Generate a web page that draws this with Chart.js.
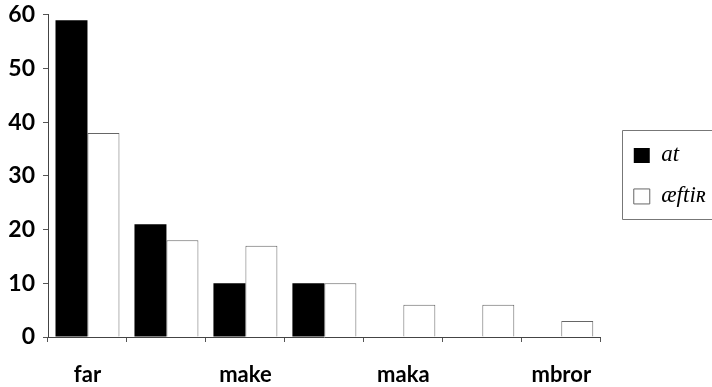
<!DOCTYPE html>
<html>
<head>
<meta charset="utf-8">
<script src="https://cdn.jsdelivr.net/npm/chart.js@4.4.1/dist/chart.umd.min.js"></script>
<style>
  html, body { margin: 0; padding: 0; background: #ffffff; }
  #wrap { width: 712px; height: 387px; position: relative; }
</style>
</head>
<body>
<div id="wrap"><canvas id="c" width="712" height="387"></canvas></div>
<script>
const categories = ['far', '', 'make', '', 'maka', '', 'mbror'];
const atValues = [59, 21, 10, 10, 0, 0, 0];
const aeftirValues = [38, 18, 17, 10, 6, 6, 3];
const seriesNames = ['at', 'æftiʀ'];
const yTicks = [0, 10, 20, 30, 40, 50, 60];

const legendFrame = {
  id: 'legendFrame',
  afterLayout(chart) {
    const lg = chart.legend;
    if (!lg) return;
    const pad = lg.options.labels.padding;
    const dx = (chart.chartArea.right + 33) - (lg.left + pad);
    const mid = (chart.chartArea.top + chart.chartArea.bottom) / 2;
    const dy = mid - (lg.top + lg.bottom) / 2;
    lg.left += dx; lg.right += dx;
    lg.top += dy; lg.bottom += dy;
  },
  afterDraw(chart) {
    const lg = chart.legend;
    if (!lg || !lg.legendHitBoxes || !lg.legendHitBoxes.length) return;
    const hb = lg.legendHitBoxes;
    const first = hb[0], last = hb[hb.length - 1];
    const ctx = chart.ctx;
    ctx.save();
    ctx.strokeStyle = '#777';
    ctx.lineWidth = 1;
    const x0 = Math.round(first.left - 12) + 0.5;
    const y0 = Math.round(first.top + first.height / 2 - 25) + 0.5;
    const y1 = Math.round(last.top + last.height / 2 + 23) + 0.5;
    ctx.beginPath();
    ctx.moveTo(chart.width + 5, y0);
    ctx.lineTo(x0, y0);
    ctx.lineTo(x0, y1);
    ctx.lineTo(chart.width + 5, y1);
    ctx.stroke();
    ctx.restore();
  }
};

new Chart(document.getElementById('c'), {
  type: 'bar',
  data: {
    labels: categories,
    datasets: [
      { label: seriesNames[0], data: atValues, backgroundColor: '#000000', borderColor: '#000000', borderWidth: 0 },
      { label: seriesNames[1], data: aeftirValues, backgroundColor: '#ffffff', borderColor: '#666666', borderWidth: 1 }
    ]
  },
  options: {
    responsive: false,
    animation: false,
    layout: { padding: { top: 0, left: 0, right: 11, bottom: 0 } },
    datasets: { bar: { categoryPercentage: 0.81, barPercentage: 1.0 } },
    plugins: {
      tooltip: { enabled: false },
      legend: {
        position: 'right',
        labels: {
          color: '#000',
          boxWidth: 16,
          boxHeight: 15,
          padding: 18,
          font: { family: '"Liberation Serif", "DejaVu Serif", serif', style: 'italic', size: 23 }
        }
      }
    },
    scales: {
      x: {
        afterFit(scale) { scale.height = 50; },
        grid: { display: true, drawOnChartArea: false, drawTicks: true, tickLength: 5, color: '#555', offset: true },
        border: { display: true, color: '#444', width: 1 },
        ticks: {
          autoSkip: false, maxRotation: 0, padding: 20, color: '#000',
          font: { family: 'Lato, "Liberation Sans", sans-serif', weight: 'bold', size: 22 }
        }
      },
      y: {
        min: 0, max: 60,
        afterFit(scale) { scale.width = 48; },
        afterBuildTicks(scale) { scale.ticks = yTicks.map(v => ({ value: v })); },
        grid: { display: true, drawOnChartArea: false, drawTicks: true, tickLength: 5, color: '#555' },
        border: { display: true, color: '#444', width: 1 },
        ticks: {
          padding: 8, color: '#000',
          font: { family: 'Lato, "Liberation Sans", sans-serif', weight: 'bold', size: 23, lineHeight: 0.6 }
        }
      }
    }
  },
  plugins: [legendFrame]
});
</script>
</body>
</html>
